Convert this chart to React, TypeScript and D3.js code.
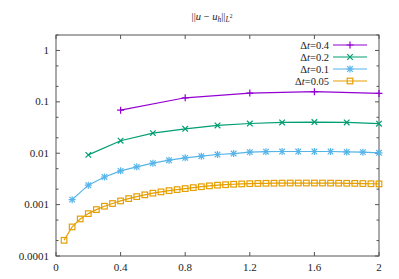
import React from 'react';
import * as d3 from 'd3';

// time steps and their errors at t = dt, 2dt, ..., 2
const steps = ['0.4', '0.2', '0.1', '0.05'];
const dts = [0.4, 0.2, 0.1, 0.05];
const err04 = [0.069, 0.12, 0.148, 0.158, 0.146];
const err02 = [0.0093, 0.0175, 0.0246, 0.0299, 0.0347, 0.0379, 0.0397, 0.0404, 0.0397, 0.0376];
const err01 = [0.00125, 0.00239, 0.00345, 0.00454, 0.00543, 0.00641, 0.00733, 0.00813, 0.00877, 0.00944,
  0.00986, 0.0105, 0.0107, 0.0108, 0.0108, 0.0108, 0.0108, 0.0106, 0.0105, 0.0102];
const err005 = [0.000202, 0.000368, 0.000526, 0.000668, 0.0008, 0.00093, 0.00105, 0.00118, 0.00131, 0.00143,
  0.00155, 0.00167, 0.00177, 0.00187, 0.00196, 0.00205, 0.00214, 0.00223, 0.00232, 0.00239,
  0.00244, 0.00249, 0.00253, 0.00256, 0.00258, 0.0026, 0.00261, 0.00262, 0.00263, 0.00263,
  0.00263, 0.00263, 0.00263, 0.00262, 0.00261, 0.0026, 0.00259, 0.00257, 0.00255, 0.00253];
const errors = [err04, err02, err01, err005];
const colors = ['#9400d3', '#009e73', '#56b4e9', '#e69f00'];
const xTicks = [0, 0.4, 0.8, 1.2, 1.6, 2];
const yTicks = [1, 0.1, 0.01, 0.001, 0.0001];
const yTickLabels = ['1', '0.1', '0.01', '0.001', '0.0001'];

const W = 399, H = 279;
const left = 56, right = 379, top = 35, bottom = 256;
const textStyle = { fontFamily: "'Liberation Serif'" };
const axisColor = '#555';

const Marker = ({ kind, x, y, color }: { kind: number; x: number; y: number; color: string }) => {
  const s = 3.5, c = 2.8;
  const plus = <path d={`M${x - s},${y}H${x + s}M${x},${y - s}V${y + s}`} />;
  const cross = <path d={`M${x - c},${y - c}L${x + c},${y + c}M${x - c},${y + c}L${x + c},${y - c}`} />;
  return (
    <g stroke={color} strokeWidth={1.2} fill="none">
      {kind === 0 && plus}
      {kind === 1 && cross}
      {kind === 2 && <>{plus}{cross}</>}
      {kind === 3 && <rect x={x - 2.8} y={y - 2.8} width={5.6} height={5.6} />}
    </g>
  );
};

export default function App() {
  const x = d3.scaleLinear().domain([0, 2]).range([left, right]);
  const y = d3.scaleLog().domain([0.0001, 2]).range([bottom, top]);

  const series = errors.map((vals, i) => vals.map((v, j) => [dts[i] * (j + 1), v] as [number, number]));
  const line = d3.line<[number, number]>().x(d => x(d[0])).y(d => y(d[1]));

  const minor: number[] = [];
  [0.0001, 0.001, 0.01, 0.1, 1].forEach(p => [2, 5].forEach(m => { if (p * m <= 2) minor.push(p * m); }));

  return (
    <svg width={W} height={H} style={{ position: 'absolute', left: 0, top: 0 }}>
      <rect width={W} height={H} fill="#fff" />
      <text x={212} y={20} textAnchor="middle" fontSize={10.5} fill="#222" style={textStyle}>
        ||<tspan fontStyle="italic">u</tspan> − <tspan fontStyle="italic">u</tspan>
        <tspan fontStyle="italic" fontSize={7.5} dy={2}>h</tspan>
        <tspan dy={-2}>||</tspan>
        <tspan fontStyle="italic" fontSize={7.5} dy={2}>L</tspan>
        <tspan fontSize={5.5} dy={-4}>2</tspan>
      </text>

      {/* ticks */}
      <g stroke={axisColor} strokeWidth={1}>
        {xTicks.map(t => (
          <g key={t}>
            <line x1={x(t)} x2={x(t)} y1={bottom} y2={bottom - 4} />
            <line x1={x(t)} x2={x(t)} y1={top} y2={top + 4} />
          </g>
        ))}
        {yTicks.map(t => (
          <g key={t}>
            <line x1={left} x2={left + 4} y1={y(t)} y2={y(t)} />
            <line x1={right} x2={right - 4} y1={y(t)} y2={y(t)} />
          </g>
        ))}
        {minor.map(t => (
          <g key={t}>
            <line x1={left} x2={left + 2.5} y1={y(t)} y2={y(t)} />
            <line x1={right} x2={right - 2.5} y1={y(t)} y2={y(t)} />
          </g>
        ))}
      </g>
      <rect x={left} y={top} width={right - left} height={bottom - top} fill="none" stroke={axisColor} strokeWidth={1} />

      <g fontSize={11} fill="#222" style={textStyle}>
        {xTicks.map(t => (
          <text key={t} x={x(t)} y={271} textAnchor="middle">{String(t)}</text>
        ))}
        {yTicks.map((t, i) => (
          <text key={t} x={49} y={y(t) + 3.5} textAnchor="end">{yTickLabels[i]}</text>
        ))}
      </g>

      {series.map((pts, i) => (
        <g key={steps[i]}>
          <path d={line(pts) ?? ''} fill="none" stroke={colors[i]} strokeWidth={1.2} />
          {pts.map((p, j) => <Marker key={j} kind={i} x={x(p[0])} y={y(p[1])} color={colors[i]} />)}
        </g>
      ))}

      {/* legend */}
      <g fontSize={10.5} fill="#222" style={textStyle}>
        {steps.map((s, i) => {
          const ly = 45 + i * 12;
          return (
            <g key={s}>
              <text x={329} y={ly + 3.5} textAnchor="end">
                Δ<tspan fontStyle="italic">t</tspan>={s}
              </text>
              <line x1={333} x2={367} y1={ly} y2={ly} stroke={colors[i]} strokeWidth={1.2} />
              <Marker kind={i} x={350} y={ly} color={colors[i]} />
            </g>
          );
        })}
      </g>
    </svg>
  );
}
